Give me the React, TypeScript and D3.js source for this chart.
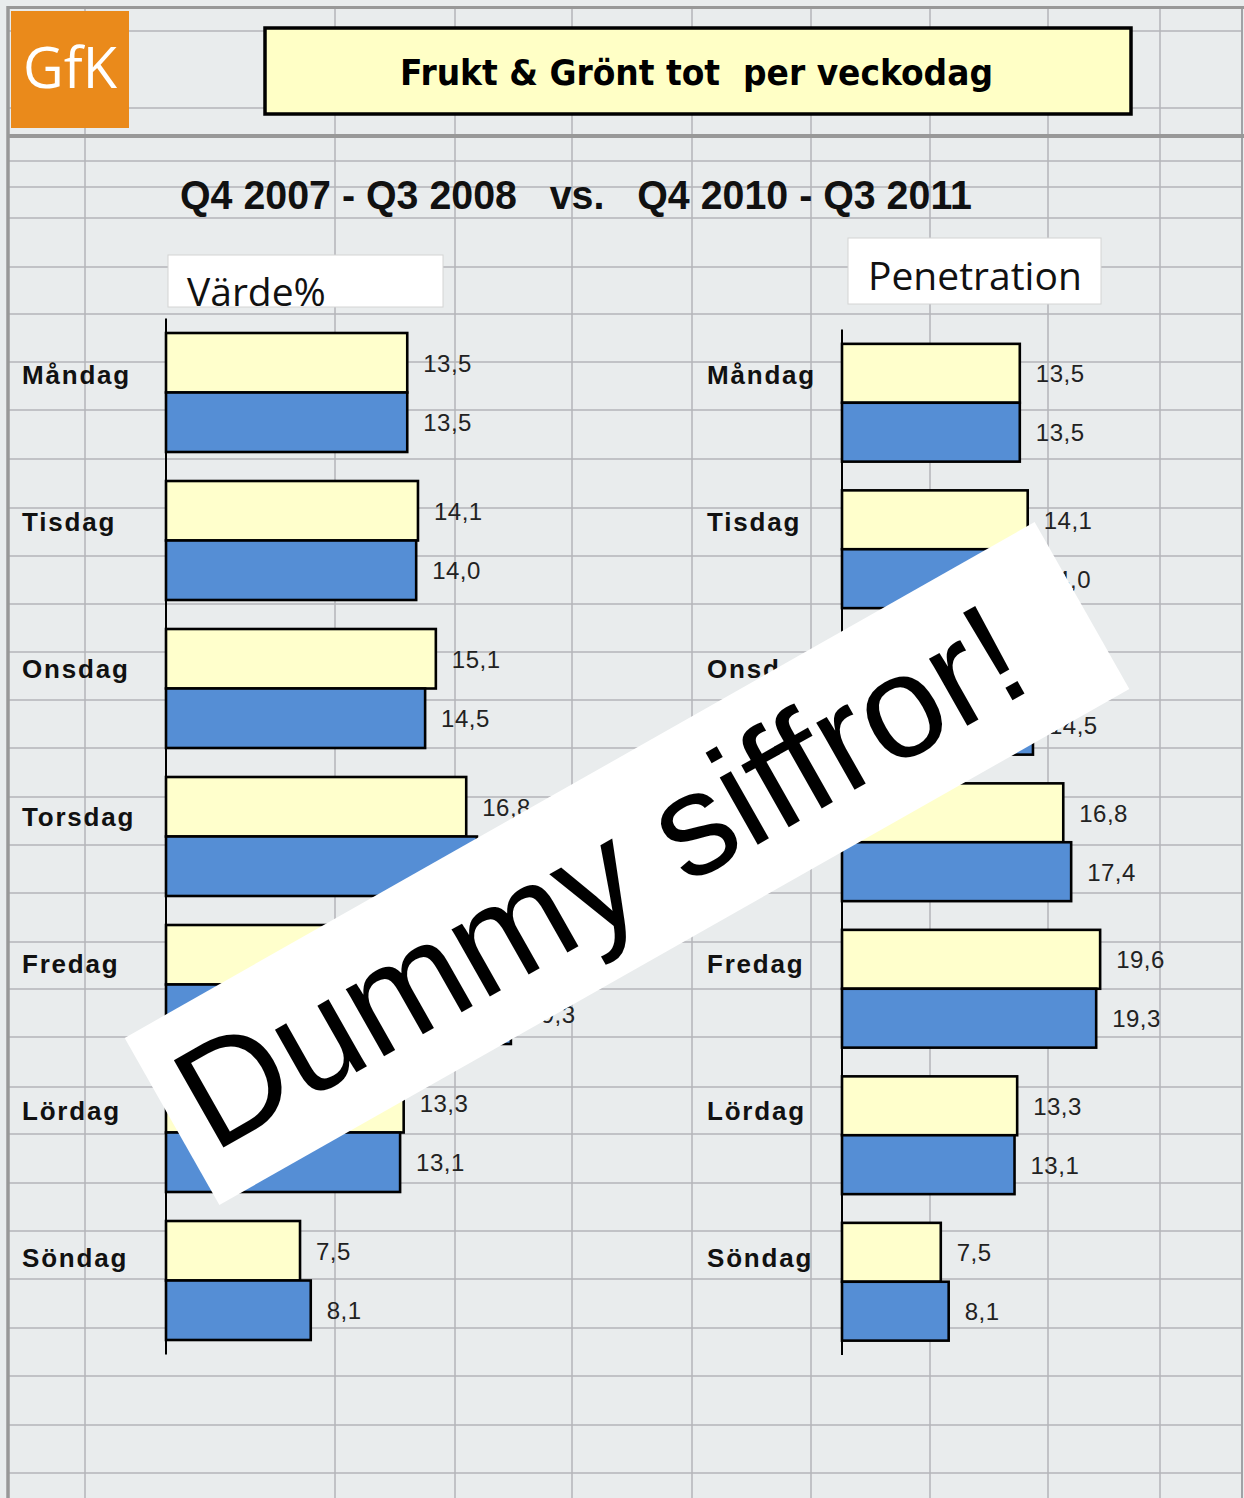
import React from 'react';
import * as d3 from 'd3';

// data
const days = ['Måndag', 'Tisdag', 'Onsdag', 'Torsdag', 'Fredag', 'Lördag', 'Söndag'];
const series = ['Q4 2007 - Q3 2008', 'Q4 2010 - Q3 2011'];
const vardePrev = [13.5, 14.1, 15.1, 16.8, 19.6, 13.3, 7.5];
const vardeCurr = [13.5, 14.0, 14.5, 17.4, 19.3, 13.1, 8.1];
const penPrev = [13.5, 14.1, 15.1, 16.8, 19.6, 13.3, 7.5];
const penCurr = [13.5, 14.0, 14.5, 17.4, 19.3, 13.1, 8.1];

// spreadsheet grid (layout only)
const gridCols = [85, 335, 455, 572, 692, 811, 930, 1048, 1160];
const gridRows = [31, 108, 161, 187, 218, 267, 314, 362, 410, 459, 508, 556, 604, 652, 700, 748, 797,
  845, 893, 942, 989, 1037, 1087, 1134, 1183, 1231, 1279, 1328, 1376, 1425, 1473];

const W = 1244;
const H = 1498;
const colors = ['#ffffcc', '#558ed5'];
const fmt = (v: number) => d3.format('.1f')(v).replace('.', ',');

type ChartProps = {
  prev: number[];
  curr: number[];
  x0: number;
  pxPerUnit: number;
  y0: number;
  step: number;
};

function BarChart({ prev, curr, x0, pxPerUnit, y0, step }: ChartProps) {
  const x = d3.scaleLinear().domain([0, 25]).range([x0, x0 + 25 * pxPerUnit]);
  const y = d3.scaleBand<string>()
    .domain(days)
    .range([y0, y0 + step * days.length])
    .paddingInner(0.196)
    .paddingOuter(0.098);
  const inner = d3.scaleBand<string>().domain(series).range([0, y.bandwidth()]);
  const rows = days.map((d, i) => ({ day: d, vals: [prev[i], curr[i]] }));

  return (
    <g>
      {rows.map(r => (
        <g key={r.day} transform={`translate(0,${y(r.day)})`}>
          {r.vals.map((v, j) => (
            <g key={j}>
              <rect
                x={x(0)}
                y={inner(series[j])}
                width={x(v) - x(0)}
                height={inner.bandwidth()}
                fill={colors[j]}
                stroke="#000"
                strokeWidth={2.6}
              />
              <text
                x={x(v) + 16}
                y={(inner(series[j]) as number) + inner.bandwidth() / 2 + 9}
                fontFamily="'Liberation Sans', Arial, sans-serif"
                fontSize={24}
                letterSpacing={0.5}
                fill="#222"
              >
                {fmt(v)}
              </text>
            </g>
          ))}
        </g>
      ))}
      <line x1={x0} x2={x0} y1={y.range()[0]} y2={y.range()[1]} stroke="#000" strokeWidth={2} />
    </g>
  );
}

export default function App() {
  // left chart band scale used for the category label rows
  const yLab = d3.scaleBand<string>().domain(days).range([318.5, 318.5 + 147.2 * 7]).paddingInner(0.196).paddingOuter(0.098);

  return (
    <div style={{ position: 'absolute', left: 0, top: 0 }}>
      <svg width={W} height={H} style={{ display: 'block' }}>
        <rect width={W} height={H} fill="#e9eced" />
        {/* grid */}
        {gridCols.map(c => (
          <line key={'c' + c} x1={c} x2={c} y1={7} y2={H} stroke="#b3b5b9" strokeWidth={1.5} />
        ))}
        {gridRows.map(r => (
          <line key={'r' + r} x1={8} x2={1242} y1={r} y2={r} stroke="#b3b5b9" strokeWidth={1.5} />
        ))}
        <line x1={1242} x2={1242} y1={6} y2={H} stroke="#a0a2a6" strokeWidth={2} />
        <line x1={8} x2={8} y1={6} y2={H} stroke="#989898" strokeWidth={3.5} />
        <line x1={8} x2={1244} y1={7.5} y2={7.5} stroke="#989898" strokeWidth={3} />
        <line x1={8} x2={1244} y1={136} y2={136} stroke="#989898" strokeWidth={4} />

        {/* logo */}
        <rect x={11} y={11} width={118} height={117} fill="#ea8a1b" />
        <text x={70} y={88} textAnchor="middle" fill="#fff" fontFamily="'Open Sans', 'Noto Sans', sans-serif" fontSize={56}>
          GfK
        </text>

        {/* title */}
        <rect x={265} y={28} width={866} height={86} fill="#ffffc6" stroke="#000" strokeWidth={3.5} />
        <text x={400} y={85} textLength={593} lengthAdjust="spacingAndGlyphs" fontFamily="'DejaVu Sans', Verdana, sans-serif" fontWeight="bold" fontSize={35} fill="#000" style={{ whiteSpace: 'pre' }}>
          {'Frukt & Grönt tot  per veckodag'}
        </text>

        <text x={180} y={209} textLength={792} lengthAdjust="spacingAndGlyphs" fontFamily="'Liberation Sans', Arial, sans-serif" fontWeight="bold" fontSize={40} fill="#111" style={{ whiteSpace: 'pre' }}>
          {`${series[0]}   vs.   ${series[1]}`}
        </text>

        <rect x={168} y={255} width={275} height={52} fill="#fff" stroke="#d4d4d4" strokeWidth={1} />
        <text x={187} y={306} fontFamily="'Open Sans', 'Noto Sans', sans-serif" fontSize={39} fill="#111">Värde%</text>
        <rect x={848} y={238} width={253} height={66} fill="#fff" stroke="#d4d4d4" strokeWidth={1} />
        <text x={868} y={290} fontFamily="'Open Sans', 'Noto Sans', sans-serif" fontSize={39} fill="#111">Penetration</text>

        <BarChart prev={vardePrev} curr={vardeCurr} x0={166} pxPerUnit={17.87} y0={318.5} step={148} />
        <BarChart prev={penPrev} curr={penCurr} x0={842} pxPerUnit={13.17} y0={329.5} step={146.5} />

        {/* category labels */}
        {days.map(d => (
          <g key={d}>
            {[22, 707].map(lx => (
              <text key={lx} x={lx} y={(yLab(d) as number) + 14 + 28 + 9} fontFamily="'Liberation Sans', Arial, sans-serif" fontWeight="bold" fontSize={26} letterSpacing={1.8} fill="#111">
                {d}
              </text>
            ))}
          </g>
        ))}

        {/* watermark */}
        <g transform="translate(627,863.5) rotate(-29.55)">
          <rect x={-523} y={-96} width={1046} height={192} fill="#fff" />
          <text x={-30} y={48} textAnchor="middle" fontFamily="'Liberation Sans', Arial, sans-serif" fontSize={146} fill="#000">
            Dummy siffror!
          </text>
        </g>
      </svg>
    </div>
  );
}
